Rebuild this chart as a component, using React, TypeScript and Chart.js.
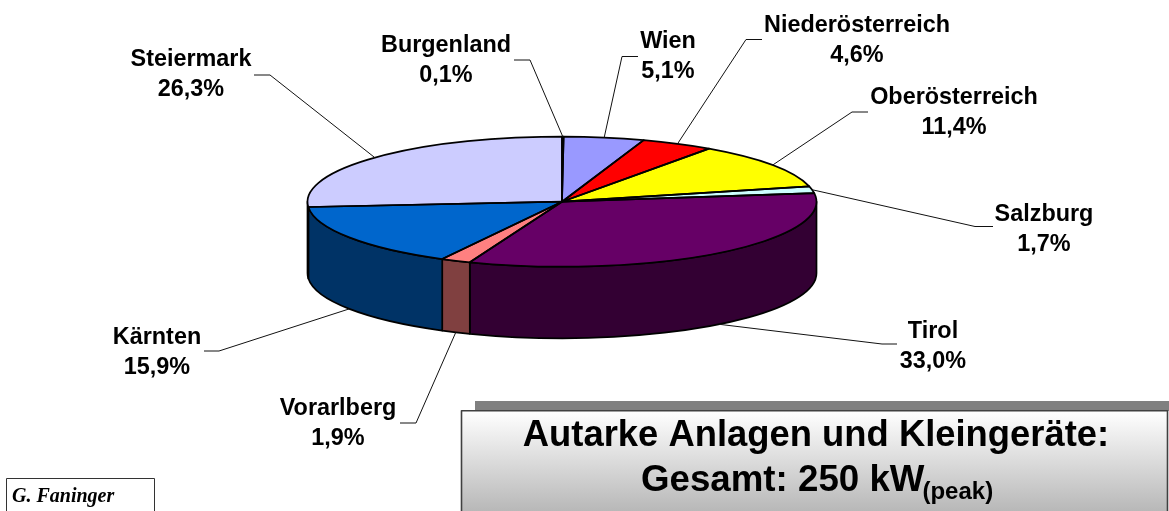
import React, { useEffect, useRef } from "react";
import { Chart, registerables } from "chart.js";

Chart.register(...registerables);

const regions = ["Burgenland", "Wien", "Niederösterreich", "Oberösterreich", "Salzburg", "Tirol", "Vorarlberg", "Kärnten", "Steiermark"];
const shares = [0.1, 5.1, 4.6, 11.4, 1.7, 33.0, 1.9, 15.9, 26.3];
const shareLabels = ["0,1%", "5,1%", "4,6%", "11,4%", "1,7%", "33,0%", "1,9%", "15,9%", "26,3%"];
const topColors = ["#9999FF", "#9999FF", "#FF0000", "#FFFF00", "#CCFFFF", "#660066", "#FF8080", "#0066CC", "#CCCCFF"];
const sideColors = ["#4D4D80", "#4D4D80", "#800000", "#808000", "#668080", "#330033", "#804040", "#003366", "#666680"];

const labelCx = [446, 668, 857, 954, 1044, 933, 338, 157, 191];
const labelY = [46, 42, 26, 98, 215, 332, 409, 338, 60];
const leaderStartX = [514, 638, 762, 868, 993, 897, 400, 204, 254];
const leaderElbowX = [530, 622, 746, 852, 975, 882, 416, 219, 270];
const leaderY = [60, 56.5, 39.5, 112, 226.5, 344, 423, 351, 75];

const PIE_CX = 562;
const PIE_CY = 201.7;
const PIE_RX = 254.5;
const PIE_RY = 65;
const PIE_DEPTH = 71.5;
const FONT = '"Liberation Sans", Arial, sans-serif';

const pie3d = {
  id: "pie3d",
  beforeDatasetsDraw(chart: any) {
    const { ctx } = chart;
    const arcs = chart.getDatasetMeta(0).data;
    arcs.forEach((arc: any, i: number) => {
      const a = Math.max(arc.startAngle, 0);
      const b = Math.min(arc.endAngle, Math.PI);
      if (b <= a) return;
      ctx.beginPath();
      ctx.ellipse(PIE_CX, PIE_CY, PIE_RX, PIE_RY, 0, a, b);
      ctx.ellipse(PIE_CX, PIE_CY + PIE_DEPTH, PIE_RX, PIE_RY, 0, b, a, true);
      ctx.closePath();
      ctx.fillStyle = sideColors[i];
      ctx.fill();
      ctx.lineWidth = 1.7;
      ctx.strokeStyle = "#000";
      ctx.lineJoin = "round";
      ctx.stroke();
    });
    const R = arcs[0].outerRadius;
    ctx.save();
    ctx.translate(PIE_CX, PIE_CY);
    ctx.scale(PIE_RX / R, PIE_RY / R);
    ctx.translate(-arcs[0].x, -arcs[0].y);
  },
  afterDatasetsDraw(chart: any) {
    const { ctx } = chart;
    ctx.restore();
    const arcs = chart.getDatasetMeta(0).data;
    arcs.forEach((arc: any) => {
      ctx.beginPath();
      ctx.moveTo(PIE_CX, PIE_CY);
      ctx.ellipse(PIE_CX, PIE_CY, PIE_RX, PIE_RY, 0, arc.startAngle, arc.endAngle);
      ctx.closePath();
      ctx.lineWidth = 1.7;
      ctx.strokeStyle = "#000";
      ctx.lineJoin = "round";
      ctx.stroke();
    });
    arcs.forEach((arc: any, i: number) => {
      const mid = (arc.startAngle + arc.endAngle) / 2;
      const ax = PIE_CX + PIE_RX * Math.cos(mid);
      let ay = PIE_CY + PIE_RY * Math.sin(mid);
      if (Math.sin(mid) > 0.3) ay += PIE_DEPTH;
      ctx.beginPath();
      ctx.moveTo(leaderStartX[i], leaderY[i]);
      ctx.lineTo(leaderElbowX[i], leaderY[i]);
      ctx.lineTo(ax, ay);
      ctx.lineWidth = 1;
      ctx.strokeStyle = "#111";
      ctx.stroke();

      ctx.fillStyle = "#000";
      ctx.font = `bold 23.4px ${FONT}`;
      ctx.textAlign = "center";
      ctx.textBaseline = "middle";
      ctx.fillText(regions[i], labelCx[i], labelY[i]);
      ctx.fillText(shareLabels[i], labelCx[i], labelY[i] + 29.5);
    });
    ctx.fillStyle = "#808080";
    ctx.fillRect(475, 401, 694, 10);
    const g = ctx.createLinearGradient(0, 411, 0, 511);
    g.addColorStop(0, "#FFFFFF");
    g.addColorStop(1, "#B8B8B8");
    ctx.fillStyle = g;
    ctx.fillRect(461, 410, 706, 102);
    ctx.strokeStyle = "#404040";
    ctx.lineWidth = 1.6;
    ctx.strokeRect(461.5, 410.8, 706, 110);
    ctx.fillStyle = "#000";
    ctx.textBaseline = "alphabetic";
    ctx.font = `bold 36.4px ${FONT}`;
    ctx.textAlign = "center";
    ctx.fillText("Autarke Anlagen und Kleingeräte:", 816, 446);
    ctx.textAlign = "left";
    ctx.font = `bold 36.7px ${FONT}`;
    ctx.fillText("Gesamt: 250 kW", 641, 491);
    const w = ctx.measureText("Gesamt: 250 kW").width;
    ctx.font = `bold 24px ${FONT}`;
    ctx.fillText("(peak)", 641 + w - 2, 498.5);
    ctx.fillStyle = "#FFF";
    ctx.fillRect(6.5, 478.5, 148, 33);
    ctx.strokeStyle = "#333";
    ctx.lineWidth = 1;
    ctx.strokeRect(6.5, 478.5, 148, 40);
    ctx.fillStyle = "#000";
    ctx.font = `italic bold 20px "Liberation Serif", serif`;
    ctx.textAlign = "left";
    ctx.fillText("G. Faninger", 12, 502);
  },
};

export default function App() {
  const ref = useRef<HTMLCanvasElement>(null);
  useEffect(() => {
    const chart = new Chart(ref.current!, {
      type: "pie",
      data: {
        labels: regions,
        datasets: [{ data: shares, backgroundColor: topColors, borderWidth: 0, hoverOffset: 0 }],
      },
      options: {
        responsive: false,
        animation: false,
        events: [],
        plugins: { legend: { display: false }, tooltip: { enabled: false } },
      },
      plugins: [pie3d],
    });
    return () => chart.destroy();
  }, []);
  return (
    <div style={{ position: "fixed", left: 0, top: 0, width: 1169, height: 511, overflow: "hidden", background: "#fff" }}>
      <canvas ref={ref} width={1169} height={511} style={{ display: "block" }} />
    </div>
  );
}
